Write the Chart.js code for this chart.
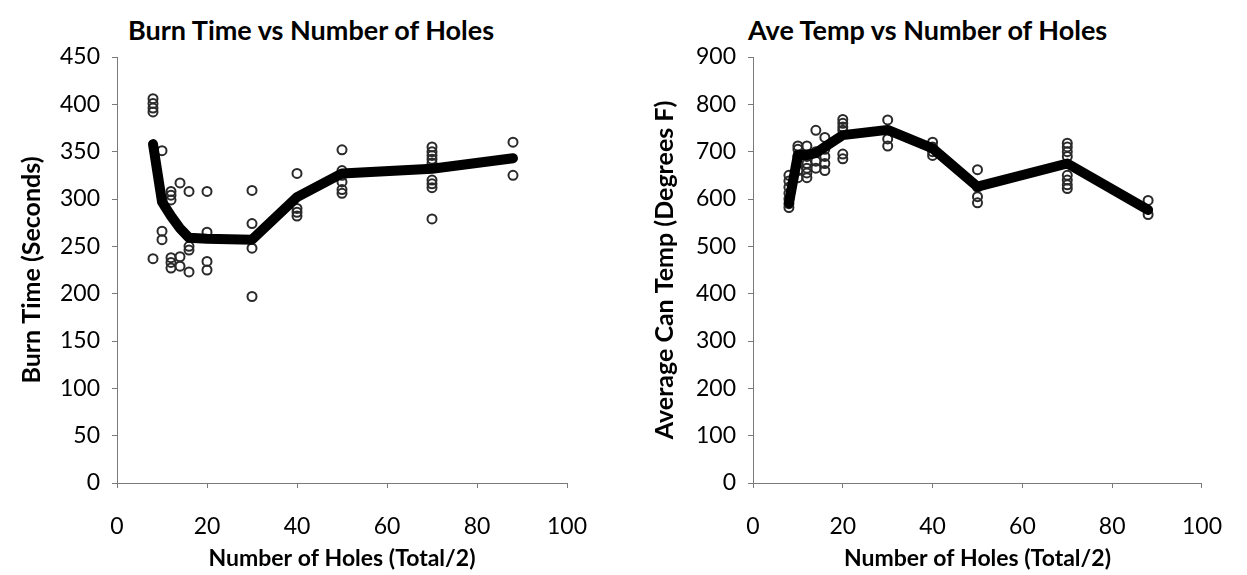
<!DOCTYPE html>
<html>
<head>
<meta charset="utf-8">
<script src="https://cdn.jsdelivr.net/npm/chart.js@4/dist/chart.umd.min.js"></script>
<style>
  html, body { margin: 0; padding: 0; background: #fff; overflow: hidden; }
  body { width: 1247px; height: 575px; position: relative; font-family: Lato, "Open Sans", sans-serif; }
  .box { position: absolute; top: 0; height: 575px; }
  .title { position: absolute; top: 15px; font-weight: bold; font-size: 27px; color: #000; white-space: nowrap; line-height: 30px; }
</style>
</head>
<body>
<div class="title" style="left:128px">Burn Time vs Number of Holes</div>
<div class="title" style="left:748px">Ave Temp vs Number of Holes</div>
<div class="box" style="left:0; width:625px"><canvas id="burn-chart" width="625" height="575"></canvas></div>
<div class="box" style="left:627px; width:620px"><canvas id="temp-chart" width="620" height="575"></canvas></div>
<script>
// averages per hole count (the thick line)
const holes = [8, 10, 12, 14, 16, 20, 30, 40, 50, 70, 88];
const burnAvg = [358, 297, 282, 269, 259, 258, 257, 302, 327, 332, 343];
const tempAvg = [591, 693, 693, 697, 710, 735, 746, 707, 626, 675, 577];

// individual runs (the open circles)
const burnHoles = [8, 8, 8, 8, 8, 10, 10, 10, 12, 12, 12, 12, 12, 12, 14, 14, 14, 16, 16, 16, 16,
    20, 20, 20, 20, 30, 30, 30, 30, 40, 40, 40, 40, 50, 50, 50, 50, 50, 50,
    70, 70, 70, 70, 70, 70, 70, 70, 70, 88, 88];
const burnTimes = [406, 401, 396, 392, 237, 351, 266, 257, 308, 304, 299, 238, 233, 227, 317, 239, 229, 308, 250, 246, 223,
    308, 265, 234, 225, 309, 274, 248, 197, 327, 290, 286, 282, 352, 330, 325, 318, 310, 306,
    355, 350, 346, 342, 338, 320, 316, 312, 279, 360, 325];

const tempHoles = [8, 8, 8, 8, 8, 8, 8, 10, 10, 10, 10, 10, 10, 12, 12, 12, 12, 12, 12, 14, 14, 14, 14,
    16, 16, 16, 16, 16, 20, 20, 20, 20, 20, 20, 30, 30, 30, 40, 40, 40, 40, 50, 50, 50, 50,
    70, 70, 70, 70, 70, 70, 70, 70, 88, 88];
const tempValues = [650, 638, 625, 612, 600, 590, 582, 712, 705, 690, 675, 660, 645, 712, 690, 675, 665, 655, 645, 745, 700, 680, 665,
    730, 705, 690, 675, 660, 768, 760, 752, 745, 695, 685, 767, 727, 712, 720, 710, 700, 692, 662, 625, 605, 592,
    718, 710, 700, 690, 650, 640, 630, 622, 597, 567];

const xTicks = [0, 20, 40, 60, 80, 100];
const burnTicks = [0, 50, 100, 150, 200, 250, 300, 350, 400, 450];
const tempTicks = [0, 100, 200, 300, 400, 500, 600, 700, 800, 900];

const axisColor = '#7a7a7a';
const tickFont = { family: 'Lato', size: 23 };
const xTitleFont = { family: 'Lato', size: 23, weight: 'bold' };
const yTitleFont = { family: 'Lato', size: 25, weight: 'bold' };

function toPoints(xs, ys) {
    return xs.map((x, i) => ({ x: x, y: ys[i] }));
}

function makeChart(id, cfg) {
    return new Chart(document.getElementById(id), {
        type: 'scatter',
        data: {
            datasets: [
                {
                    type: 'line',
                    data: toPoints(holes, cfg.avg),
                    borderColor: '#000',
                    borderWidth: 10,
                    borderCapStyle: 'round',
                    borderJoinStyle: 'round',
                    pointRadius: 0,
                    tension: 0,
                    fill: false
                },
                {
                    data: toPoints(cfg.rawX, cfg.rawY),
                    pointStyle: 'circle',
                    pointRadius: 4.5,
                    borderWidth: 2,
                    borderColor: '#2a2a2a',
                    backgroundColor: 'rgba(255,255,255,0)'
                }
            ]
        },
        options: {
            responsive: false,
            animation: false,
            layout: { padding: { top: 57, right: cfg.padRight, left: 0, bottom: 0 } },
            plugins: { legend: { display: false }, tooltip: { enabled: false }, title: { display: false } },
            scales: {
                x: {
                    type: 'linear',
                    min: 0, max: 100,
                    afterBuildTicks: s => { s.ticks = xTicks.map(v => ({ value: v })); },
                    afterFit: s => { s.height = 92; },
                    border: { color: axisColor, width: 1 },
                    grid: { drawOnChartArea: false, drawTicks: true, tickLength: 5, color: axisColor },
                    ticks: { color: '#000', font: tickFont, padding: 25 },
                    title: { display: true, text: 'Number of Holes (Total/2)', color: '#000', font: xTitleFont, padding: { top: 2, bottom: 3 } }
                },
                y: {
                    type: 'linear',
                    min: 0, max: cfg.yMax,
                    afterBuildTicks: s => { s.ticks = cfg.yTicks.map(v => ({ value: v })); },
                    afterFit: s => { s.width = cfg.yWidth; },
                    border: { color: axisColor, width: 1 },
                    grid: { drawOnChartArea: false, drawTicks: true, tickLength: 5, color: axisColor },
                    ticks: { color: '#000', font: tickFont, padding: 12 },
                    title: { display: true, text: cfg.yTitle, color: '#000', font: yTitleFont, padding: { top: cfg.yTitlePad, bottom: 0 } }
                }
            }
        }
    });
}

makeChart('burn-chart', {
    avg: burnAvg, rawX: burnHoles, rawY: burnTimes,
    yMax: 450, yTicks: burnTicks, yTitle: 'Burn Time (Seconds)',
    yWidth: 117, padRight: 58, yTitlePad: 17
});

makeChart('temp-chart', {
    avg: tempAvg, rawX: tempHoles, rawY: tempValues,
    yMax: 900, yTicks: tempTicks, yTitle: 'Average Can Temp (Degrees F)',
    yWidth: 126, padRight: 32, yTitlePad: 23
});
</script>
</body>
</html>
